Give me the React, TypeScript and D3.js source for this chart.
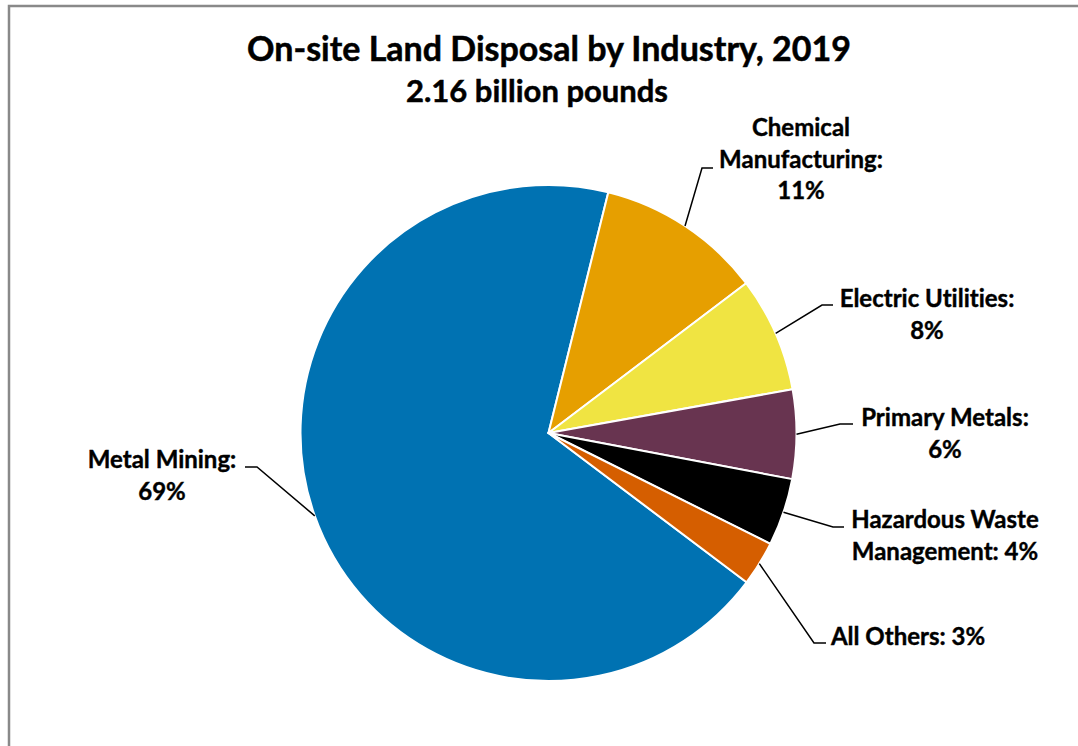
import React, { useEffect, useRef } from 'react';
import * as d3 from 'd3';

// Data (shares of 2.16 billion pounds)
const categories = [
  'Metal Mining',
  'Chemical Manufacturing',
  'Electric Utilities',
  'Primary Metals',
  'Hazardous Waste Management',
  'All Others',
];
const shares = [68.6, 10.8, 7.5, 5.8, 4.4, 2.9];
const sliceColors = ['#0072B2', '#E69F00', '#F0E442', '#683450', '#000000', '#D55E00'];

// Label text, {p} gets replaced by the rounded percentage
const labelLines = [
  ['Metal Mining:', '{p}%'],
  ['Chemical', 'Manufacturing:', '{p}%'],
  ['Electric Utilities:', '{p}%'],
  ['Primary Metals:', '{p}%'],
  ['Hazardous Waste', 'Management: {p}%'],
  ['All Others: {p}%'],
];

const title = 'On-site Land Disposal by Industry, 2019';
const subtitle = '2.16 billion pounds';

// Label placement (elbow, end of leader, text centre, first baseline)
const labelLayout = [
  { elbow: [257, 467], end: [245, 467], tx: 162, ty: 468 },
  { elbow: [702, 168], end: [713, 168], tx: 801, ty: 136 },
  { elbow: [822, 305], end: [833, 305], tx: 927, ty: 307 },
  { elbow: [840, 424], end: [853, 424], tx: 945, ty: 426 },
  { elbow: [833, 527], end: [844, 527], tx: 945, ty: 528 },
  { elbow: [814, 643], end: [826, 643], tx: 908, ty: 645 },
];

const W = 1078;
const H = 746;
const FONT = 'Lato, "Open Sans", sans-serif';

const App: React.FC = () => {
  const ref = useRef<SVGSVGElement>(null);

  useEffect(() => {
    if (!ref.current) return;
    const svg = d3.select(ref.current);
    svg.selectAll('*').remove();

    svg.append('rect').attr('width', W).attr('height', H).attr('fill', '#fff');

    // chart border (right/bottom run off the page)
    svg.append('rect')
      .attr('x', 9)
      .attr('y', 6)
      .attr('width', W + 20)
      .attr('height', H + 20)
      .attr('fill', 'none')
      .attr('stroke', '#898989')
      .attr('stroke-width', 2.5);

    svg.append('text')
      .attr('x', 549)
      .attr('y', 61)
      .attr('text-anchor', 'middle')
      .attr('font-family', FONT)
      .attr('font-weight', 700)
      .attr('font-size', 34)
      .attr('fill', '#000')
      .attr('stroke', '#000')
      .attr('stroke-width', 0.5)
      .style('font-variant-ligatures', 'none')
      .text(title);

    svg.append('text')
      .attr('x', 537)
      .attr('y', 102)
      .attr('text-anchor', 'middle')
      .attr('font-family', FONT)
      .attr('font-weight', 700)
      .attr('font-size', 31)
      .attr('fill', '#000')
      .attr('stroke', '#000')
      .attr('stroke-width', 0.5)
      .style('font-variant-ligatures', 'none')
      .text(subtitle);

    const cx = 548.5;
    const cy = 433;
    const radius = 248;
    const start = (127 * Math.PI) / 180;

    const total = d3.sum(shares);
    const data = categories.map((c, i) => ({ name: c, value: shares[i], i }));

    const pie = d3.pie<typeof data[number]>()
      .sort(null)
      .value((d) => d.value)
      .startAngle(start)
      .endAngle(start + 2 * Math.PI);

    const arcs = pie(data);
    const arc = d3.arc<d3.PieArcDatum<typeof data[number]>>()
      .innerRadius(0)
      .outerRadius(radius);
    const rim = d3.arc<d3.PieArcDatum<typeof data[number]>>()
      .innerRadius(radius)
      .outerRadius(radius);

    const g = svg.append('g').attr('transform', `translate(${cx},${cy})`);

    g.selectAll('path.slice')
      .data(arcs)
      .enter()
      .append('path')
      .attr('class', 'slice')
      .attr('d', arc)
      .attr('fill', (d) => sliceColors[d.data.i])
      .attr('stroke', '#fff')
      .attr('stroke-width', 2)
      .attr('stroke-linejoin', 'round');

    // leaders + labels
    arcs.forEach((a) => {
      const i = a.data.i;
      const lay = labelLayout[i];
      const [px, py] = rim.centroid(a);
      const pts: [number, number][] = [
        [cx + px, cy + py],
        [lay.elbow[0], lay.elbow[1]],
        [lay.end[0], lay.end[1]],
      ];
      svg.append('path')
        .attr('d', d3.line()(pts))
        .attr('fill', 'none')
        .attr('stroke', '#000')
        .attr('stroke-width', 1.5);

      const pct = Math.round((a.data.value / total) * 100);
      const t = svg.append('text')
        .attr('text-anchor', 'middle')
        .attr('font-family', FONT)
        .attr('font-weight', 700)
        .attr('font-size', 24)
        .attr('fill', '#000')
        .attr('stroke', '#000')
        .attr('stroke-width', 0.4)
        .style('font-variant-ligatures', 'none');
      labelLines[i].forEach((ln, k) => {
        t.append('tspan')
          .attr('x', lay.tx)
          .attr('y', lay.ty + k * 31.5)
          .text(ln.replace('{p}', String(pct)));
      });
    });
  }, []);

  return (
    <svg
      ref={ref}
      width={W}
      height={H}
      style={{ position: 'absolute', left: 0, top: 0, display: 'block' }}
    />
  );
};

export default App;
